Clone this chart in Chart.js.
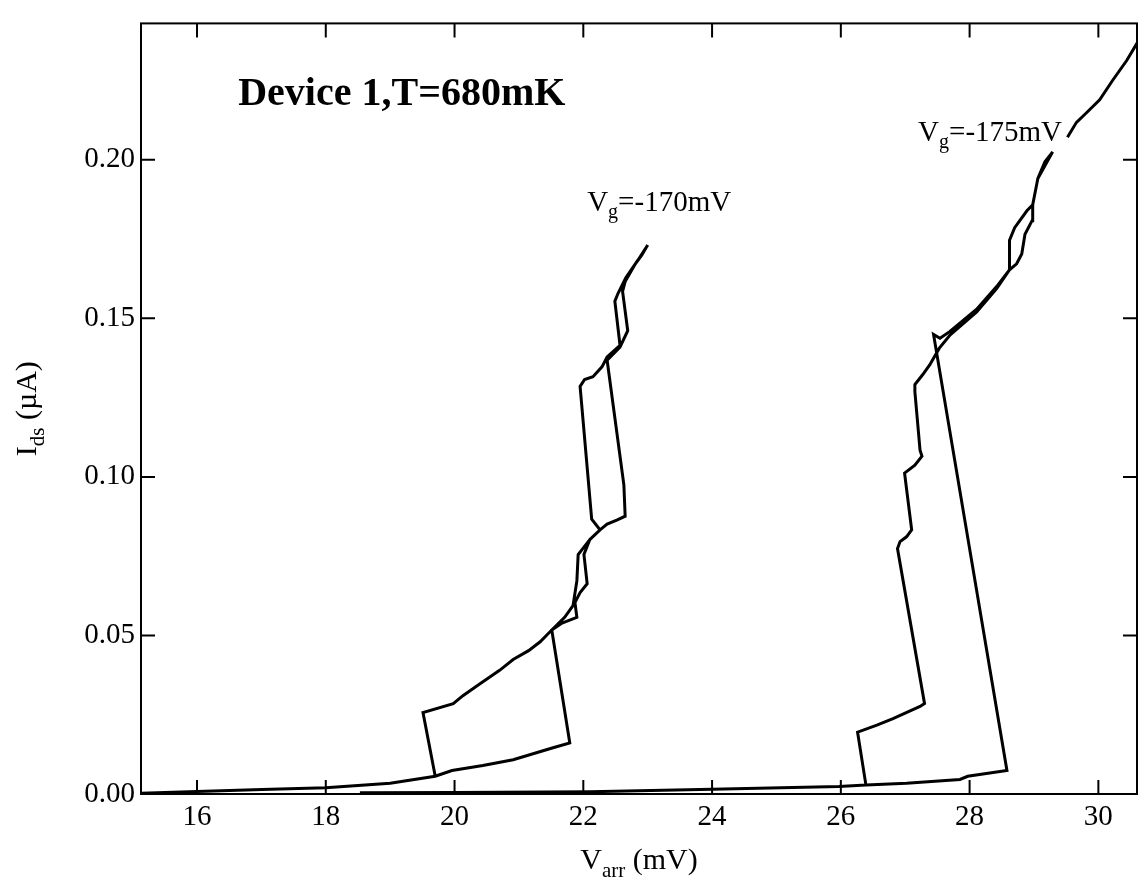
<!DOCTYPE html>
<html>
<head>
<meta charset="utf-8">
<script src="https://cdn.jsdelivr.net/npm/chart.js@4/dist/chart.umd.min.js"></script>
<style>
  html, body { margin: 0; padding: 0; background: #fff; }
</style>
</head>
<body>
<canvas id="ivChart" width="1145" height="887"></canvas>
<script>
// Vg = -170 mV sweep: up along the lower branch, then back down the upper one
const vg170Varr = [15.13, 16.00, 17.01, 18.00, 19.00, 19.70, 19.96, 20.44, 20.91, 21.53, 21.79,
  21.51, 21.67, 21.90, 21.87, 21.95, 22.06, 22.01, 22.10, 22.26, 22.37, 22.52, 22.65, 22.63,
  22.37, 22.57, 22.69, 22.61, 22.65, 22.80, 22.91, 23.00,
  22.85, 22.66, 22.54, 22.49, 22.57, 22.37, 22.29, 22.15, 22.02, 21.95, 22.13, 22.26, 22.10,
  21.92, 21.90, 21.84, 21.71, 21.51, 21.33, 21.15, 20.91, 20.70, 20.39, 20.13, 19.98, 19.51, 19.70];
const vg170Ids = [0.0002, 0.0008, 0.0014, 0.0020, 0.0034, 0.0056, 0.0074, 0.0090, 0.0108, 0.0146, 0.0161,
  0.0517, 0.0539, 0.0557, 0.0604, 0.0635, 0.0663, 0.0755, 0.0802, 0.0833, 0.0851, 0.0864, 0.0876, 0.0975,
  0.1368, 0.1409, 0.1461, 0.1585, 0.1616, 0.1669, 0.1700, 0.1731,
  0.1684, 0.1628, 0.1579, 0.1554, 0.1415, 0.1378, 0.1347, 0.1316, 0.1307, 0.1285, 0.0867, 0.0833, 0.0802,
  0.0755, 0.0672, 0.0594, 0.0557, 0.0517, 0.0480, 0.0452, 0.0424, 0.0390, 0.0347, 0.0310, 0.0285, 0.0257, 0.0056];

// Vg = -175 mV sweep (null = break in the trace under the label)
const vg175Varr = [18.53, 20.00, 22.10, 24.00, 25.97, 26.39, 27.02, 27.85, 27.97, 28.58,
  27.44, 27.54, 27.69, 28.11, 28.42, 28.62, 28.73, 28.81, 28.86, 28.97, 28.98, 29.06, 29.17, 29.29,
  null, 29.52, 29.66, 29.82, 30.02, 30.22, 30.44, 30.64,
  null, 29.29, 29.06, 28.98, 28.89, 28.70, 28.62, 28.62, 28.42, 28.11, 27.69, 27.53,
  27.38, 27.27, 27.15, 27.15, 27.23, 27.26, 27.15, 26.99, 27.10, 27.02, 26.92, 26.88, 27.30, 27.23,
  26.81, 26.56, 26.26, 26.39];
const vg175Ids = [0.0004, 0.0005, 0.0007, 0.0015, 0.0024, 0.0028, 0.0034, 0.0046, 0.0056, 0.0074,
  0.1449, 0.1437, 0.1458, 0.1529, 0.1600, 0.1653, 0.1672, 0.1703, 0.1765, 0.1808, 0.1858, 0.1941, 0.1994, 0.2025,
  null, 0.2071, 0.2118, 0.2149, 0.2189, 0.2250, 0.2313, 0.2381,
  null, 0.2025, 0.1941, 0.1858, 0.1839, 0.1786, 0.1746, 0.1653, 0.1594, 0.1520, 0.1446, 0.1406,
  0.1353, 0.1322, 0.1291, 0.1269, 0.1084, 0.1065, 0.1037, 0.1012, 0.0833, 0.0811, 0.0796, 0.0774, 0.0285, 0.0276,
  0.0238, 0.0217, 0.0195, 0.0028];

const xTicks = [16, 18, 20, 22, 24, 26, 28, 30];
const yTicks = [0.00, 0.05, 0.10, 0.15, 0.20];
const xRange = [15.13, 30.6];
const yRange = [0, 0.243];

const FONT = "'Liberation Serif', 'Times New Roman', serif";

function toPoints(xs, ys) {
    return xs.map((x, i) => ({ x: x, y: ys[i] }));
}

// text with subscript pieces: parts = [[text, isSub], ...]
function partsWidth(ctx, parts, size) {
    let w = 0;
    parts.forEach(([t, sub]) => {
        ctx.font = (sub ? Math.round(size * 0.7) : size) + 'px ' + FONT;
        w += ctx.measureText(t).width;
    });
    return w;
}

function drawParts(ctx, parts, x, y, size) {
    let cx = x;
    parts.forEach(([t, sub]) => {
        ctx.font = (sub ? Math.round(size * 0.7) : size) + 'px ' + FONT;
        ctx.fillText(t, cx, sub ? y + size * 0.25 : y);
        cx += ctx.measureText(t).width;
    });
}

// frame round the plot with inward tick marks on all four sides
const frameTicks = {
    id: 'frameTicks',
    afterDatasetsDraw(chart) {
        const { ctx, chartArea: a, scales: { x, y } } = chart;
        const len = 14;
        ctx.save();
        ctx.strokeStyle = '#000';
        ctx.lineWidth = 2;
        ctx.strokeRect(a.left, a.top, a.right - a.left, a.bottom - a.top);
        ctx.beginPath();
        xTicks.forEach(v => {
            const px = x.getPixelForValue(v);
            ctx.moveTo(px, a.bottom); ctx.lineTo(px, a.bottom - len);
            ctx.moveTo(px, a.top); ctx.lineTo(px, a.top + len);
        });
        yTicks.forEach(v => {
            const py = y.getPixelForValue(v);
            ctx.moveTo(a.left, py); ctx.lineTo(a.left + len, py);
            ctx.moveTo(a.right, py); ctx.lineTo(a.right - len, py);
        });
        ctx.stroke();
        ctx.restore();
    }
};

// title, curve labels and axis titles
const annotations = {
    id: 'annotations',
    afterDraw(chart) {
        const { ctx, chartArea: a, scales: { x, y } } = chart;
        ctx.save();
        ctx.fillStyle = '#000';
        ctx.textBaseline = 'alphabetic';
        ctx.textAlign = 'left';

        ctx.font = 'bold 40px ' + FONT;
        ctx.fillText('Device 1,T=680mK', x.getPixelForValue(16.64), y.getPixelForValue(0.2173));

        drawParts(ctx, [['V', false], ['g', true], ['=-170mV', false]],
            x.getPixelForValue(22.06), y.getPixelForValue(0.184), 29);
        drawParts(ctx, [['V', false], ['g', true], ['=-175mV', false]],
            x.getPixelForValue(27.2), y.getPixelForValue(0.206), 29);

        // x axis title
        const xParts = [['V', false], ['arr', true], [' (mV)', false]];
        const xw = partsWidth(ctx, xParts, 30);
        drawParts(ctx, xParts, (a.left + a.right) / 2 - xw / 2, 869, 30);

        // y axis title, rotated
        const yParts = [['I', false], ['ds', true], [' (\u00b5A)', false]];
        const yw = partsWidth(ctx, yParts, 30);
        ctx.translate(36, (a.top + a.bottom) / 2);
        ctx.rotate(-Math.PI / 2);
        drawParts(ctx, yParts, -yw / 2, 0, 30);
        ctx.restore();
    }
};

const lineStyle = {
    showLine: true,
    spanGaps: false,
    borderColor: '#000',
    borderWidth: 3,
    pointRadius: 0,
    tension: 0,
    fill: false
};

new Chart(document.getElementById('ivChart'), {
    type: 'scatter',
    data: {
        datasets: [
            Object.assign({ label: 'Vg=-170mV', data: toPoints(vg170Varr, vg170Ids) }, lineStyle),
            Object.assign({ label: 'Vg=-175mV', data: toPoints(vg175Varr, vg175Ids) }, lineStyle)
        ]
    },
    options: {
        responsive: false,
        animation: false,
        devicePixelRatio: 1,
        layout: { padding: { top: 8, right: 8, left: 0, bottom: 0 } },
        plugins: {
            legend: { display: false },
            tooltip: { enabled: false }
        },
        scales: {
            x: {
                type: 'linear',
                min: xRange[0],
                max: xRange[1],
                afterFit(scale) { scale.height = 93; },
                afterBuildTicks(scale) { scale.ticks = xTicks.map(v => ({ value: v })); },
                grid: { display: false, drawTicks: false },
                border: { display: false },
                ticks: {
                    color: '#000',
                    padding: 6,
                    font: { family: FONT, size: 29 },
                    maxRotation: 0,
                    callback: v => String(v)
                }
            },
            y: {
                type: 'linear',
                min: yRange[0],
                max: yRange[1],
                afterFit(scale) { scale.width = 141; },
                afterBuildTicks(scale) { scale.ticks = yTicks.map(v => ({ value: v })); },
                grid: { display: false, drawTicks: false },
                border: { display: false },
                ticks: {
                    color: '#000',
                    padding: 6,
                    font: { family: FONT, size: 29 },
                    callback: v => v.toFixed(2)
                }
            }
        }
    },
    plugins: [frameTicks, annotations]
});
</script>
</body>
</html>
